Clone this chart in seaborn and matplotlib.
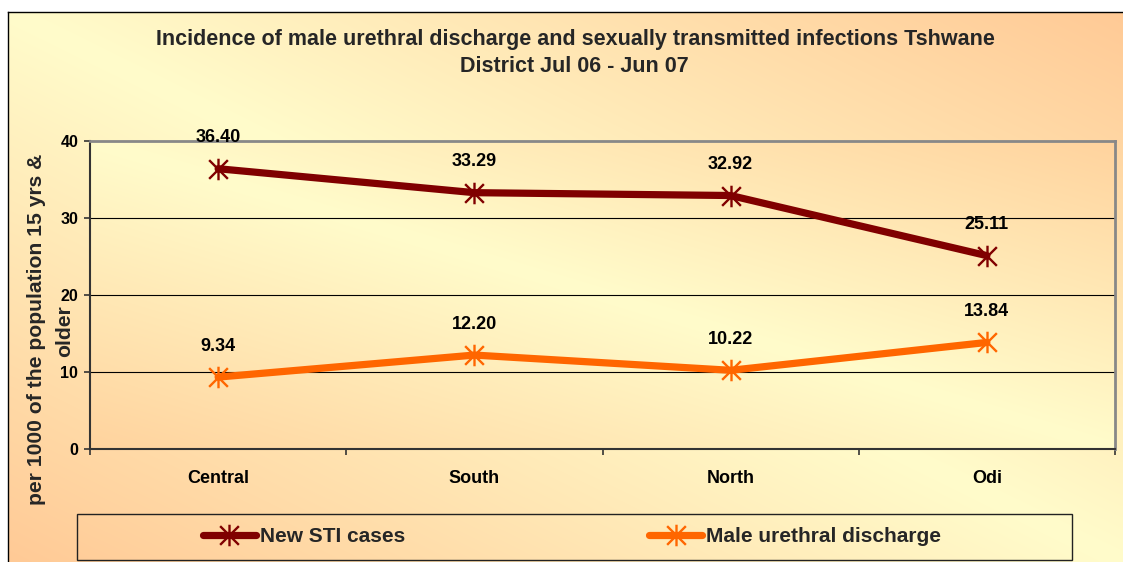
"""
Incidence of male urethral discharge and STIs, Tshwane District, Jul 06 - Jun 07.

    python plot.py
"""

import matplotlib
matplotlib.use("Agg")

import matplotlib.pyplot as plt
import numpy as np
import pandas as pd
import seaborn as sns
from matplotlib.colors import to_rgb
from matplotlib.lines import Line2D
from matplotlib.patches import Rectangle
from matplotlib.path import Path

# --- data --------------------------------------------------------------------
subdistricts = ["Central", "South", "North", "Odi"]
new_sti = [36.40, 33.29, 32.92, 25.11]
male_urethral = [9.34, 12.20, 10.22, 13.84]
y_ticks = [0, 10, 20, 30, 40]

W, H = 1123, 562
COR_STI = "#800000"
COR_MUD = "#FF6600"

sns.set_theme(style="white")
plt.rcParams["font.family"] = ["Liberation Sans", "DejaVu Sans"]
plt.rcParams["font.weight"] = "bold"

# star marker like Excel: an X with a vertical bar
estrela = Path([(-1, -1), (1, 1), (-1, 1), (1, -1), (0, -1.15), (0, 1.15)],
               [Path.MOVETO, Path.LINETO, Path.MOVETO, Path.LINETO,
                Path.MOVETO, Path.LINETO])


def gradiente(cor_clara, cor_escura, n=300):
    u = np.linspace(0, 1, n)
    uu, vv = np.meshgrid(u, u)          # vv = 0 on top row
    t = np.abs(uu - vv)[..., None]
    c0 = np.array(to_rgb(cor_clara))
    c1 = np.array(to_rgb(cor_escura))
    return c0 + t * (c1 - c0)


fig = plt.figure(figsize=(W / 100, H / 100), dpi=100)
fig.patch.set_facecolor("white")

# chart area background with its black outline (left/top only visible)
bg = fig.add_axes([8 / W, 0, 1 - 8 / W, 1 - 12 / H], zorder=-10)
bg.imshow(gradiente("#FFFCCB", "#FFCA96"), aspect="auto",
          extent=(0, 1, 0, 1), interpolation="bicubic")
bg.set_xticks([])
bg.set_yticks([])
for lado in ("right", "bottom"):
    bg.spines[lado].set_visible(False)
for lado in ("left", "top"):
    bg.spines[lado].set_color("black")
    bg.spines[lado].set_linewidth(1.0)

# plot area
rect = [90 / W, 1 - 449 / H, (1115 - 90) / W, (449 - 141) / H]
pa = fig.add_axes(rect, zorder=-5)
pa.imshow(gradiente("#FFFCCB", "#FFD39E"), aspect="auto",
          extent=(0, 1, 0, 1), interpolation="bicubic")
pa.axis("off")

ax = fig.add_axes(rect, zorder=1)
ax.patch.set_alpha(0)

df = pd.DataFrame({"subdistrito": subdistricts,
                   "sti": new_sti, "mud": male_urethral})

for col, cor in (("sti", COR_STI), ("mud", COR_MUD)):
    sns.lineplot(data=df, x="subdistrito", y=col, ax=ax, sort=False,
                 color=cor, linewidth=5.2, marker=estrela, markersize=15.5,
                 markeredgewidth=1.7, markeredgecolor=cor,
                 markerfacecolor="none", zorder=3)
    for i, v in enumerate(df[col]):
        ax.annotate(f"{v:.2f}", (i, v), xytext=(0, 26.5),
                    textcoords="offset pixels", ha="center", va="baseline",
                    fontsize=13, fontweight="bold", color="black",
                    annotation_clip=False, zorder=4)

ax.set_xlim(-0.5, 3.5)
ax.set_ylim(0, 40)
ax.set_yticks(y_ticks)
ax.set_xticks(range(len(subdistricts)))
ax.set_xticklabels(subdistricts)
ax.set_xticks(np.arange(-0.5, 4, 1), minor=True)
ax.set_xlabel("")
ax.set_ylabel("")
ax.tick_params(axis="x", which="major", length=0, pad=15,
               labelsize=13, labelcolor="black")
ax.tick_params(axis="x", which="minor", bottom=True, length=4,
               width=1.2, color="#333333", direction="out")
ax.tick_params(axis="y", left=True, length=4, width=1.2, color="#333333",
               direction="out", pad=4.5, labelsize=11.5, labelcolor="black")
for lbl in ax.get_xticklabels() + ax.get_yticklabels():
    lbl.set_fontweight("bold")

for y in y_ticks[1:-1]:
    ax.axhline(y, color="black", linewidth=0.8, zorder=1)

for lado in ("left", "bottom"):
    ax.spines[lado].set_color("#333333")
    ax.spines[lado].set_linewidth(1.5)
for lado in ("top", "right"):
    ax.spines[lado].set_color("#888888")
    ax.spines[lado].set_linewidth(2.0)

# title (two lines, as in the original)
fig.text(575 / W, 1 - 39.5 / H,
         "Incidence of male urethral discharge and sexually transmitted infections Tshwane",
         ha="center", va="center", fontsize=15.5, fontweight="bold")
fig.text(574 / W, 1 - 66 / H, "District Jul 06 - Jun 07",
         ha="center", va="center", fontsize=15.5, fontweight="bold")

# y label (wrapped on two lines)
fig.text(37 / W, 1 - 329 / H, "per 1000 of the population 15 yrs &",
         rotation=90, ha="center", va="center", fontsize=15.2, fontweight="bold")
fig.text(65 / W, 1 - 331 / H, "older",
         rotation=90, ha="center", va="center", fontsize=15.2, fontweight="bold")

# legend
fig.patches.append(Rectangle((77 / W, 1 - 560 / H), 995 / W, 46 / H,
                             transform=fig.transFigure, fill=False,
                             edgecolor="#222222", linewidth=1.0, zorder=2))
handles = [Line2D([], [], color=c, linewidth=5.2, marker=estrela,
                  markersize=15.5, markeredgewidth=1.7, markeredgecolor=c,
                  markerfacecolor="none", solid_capstyle="round")
           for c in (COR_STI, COR_MUD)]
fig.legend(handles, ["New STI cases", "Male urethral discharge"],
           loc="center", bbox_to_anchor=(572 / W, 1 - 537 / H),
           ncol=2, frameon=False, prop={"size": 15, "weight": "bold"},
           handlelength=2.55, handletextpad=0.2, columnspacing=11.7)

fig.savefig("out.png", dpi=100)
plt.close(fig)
